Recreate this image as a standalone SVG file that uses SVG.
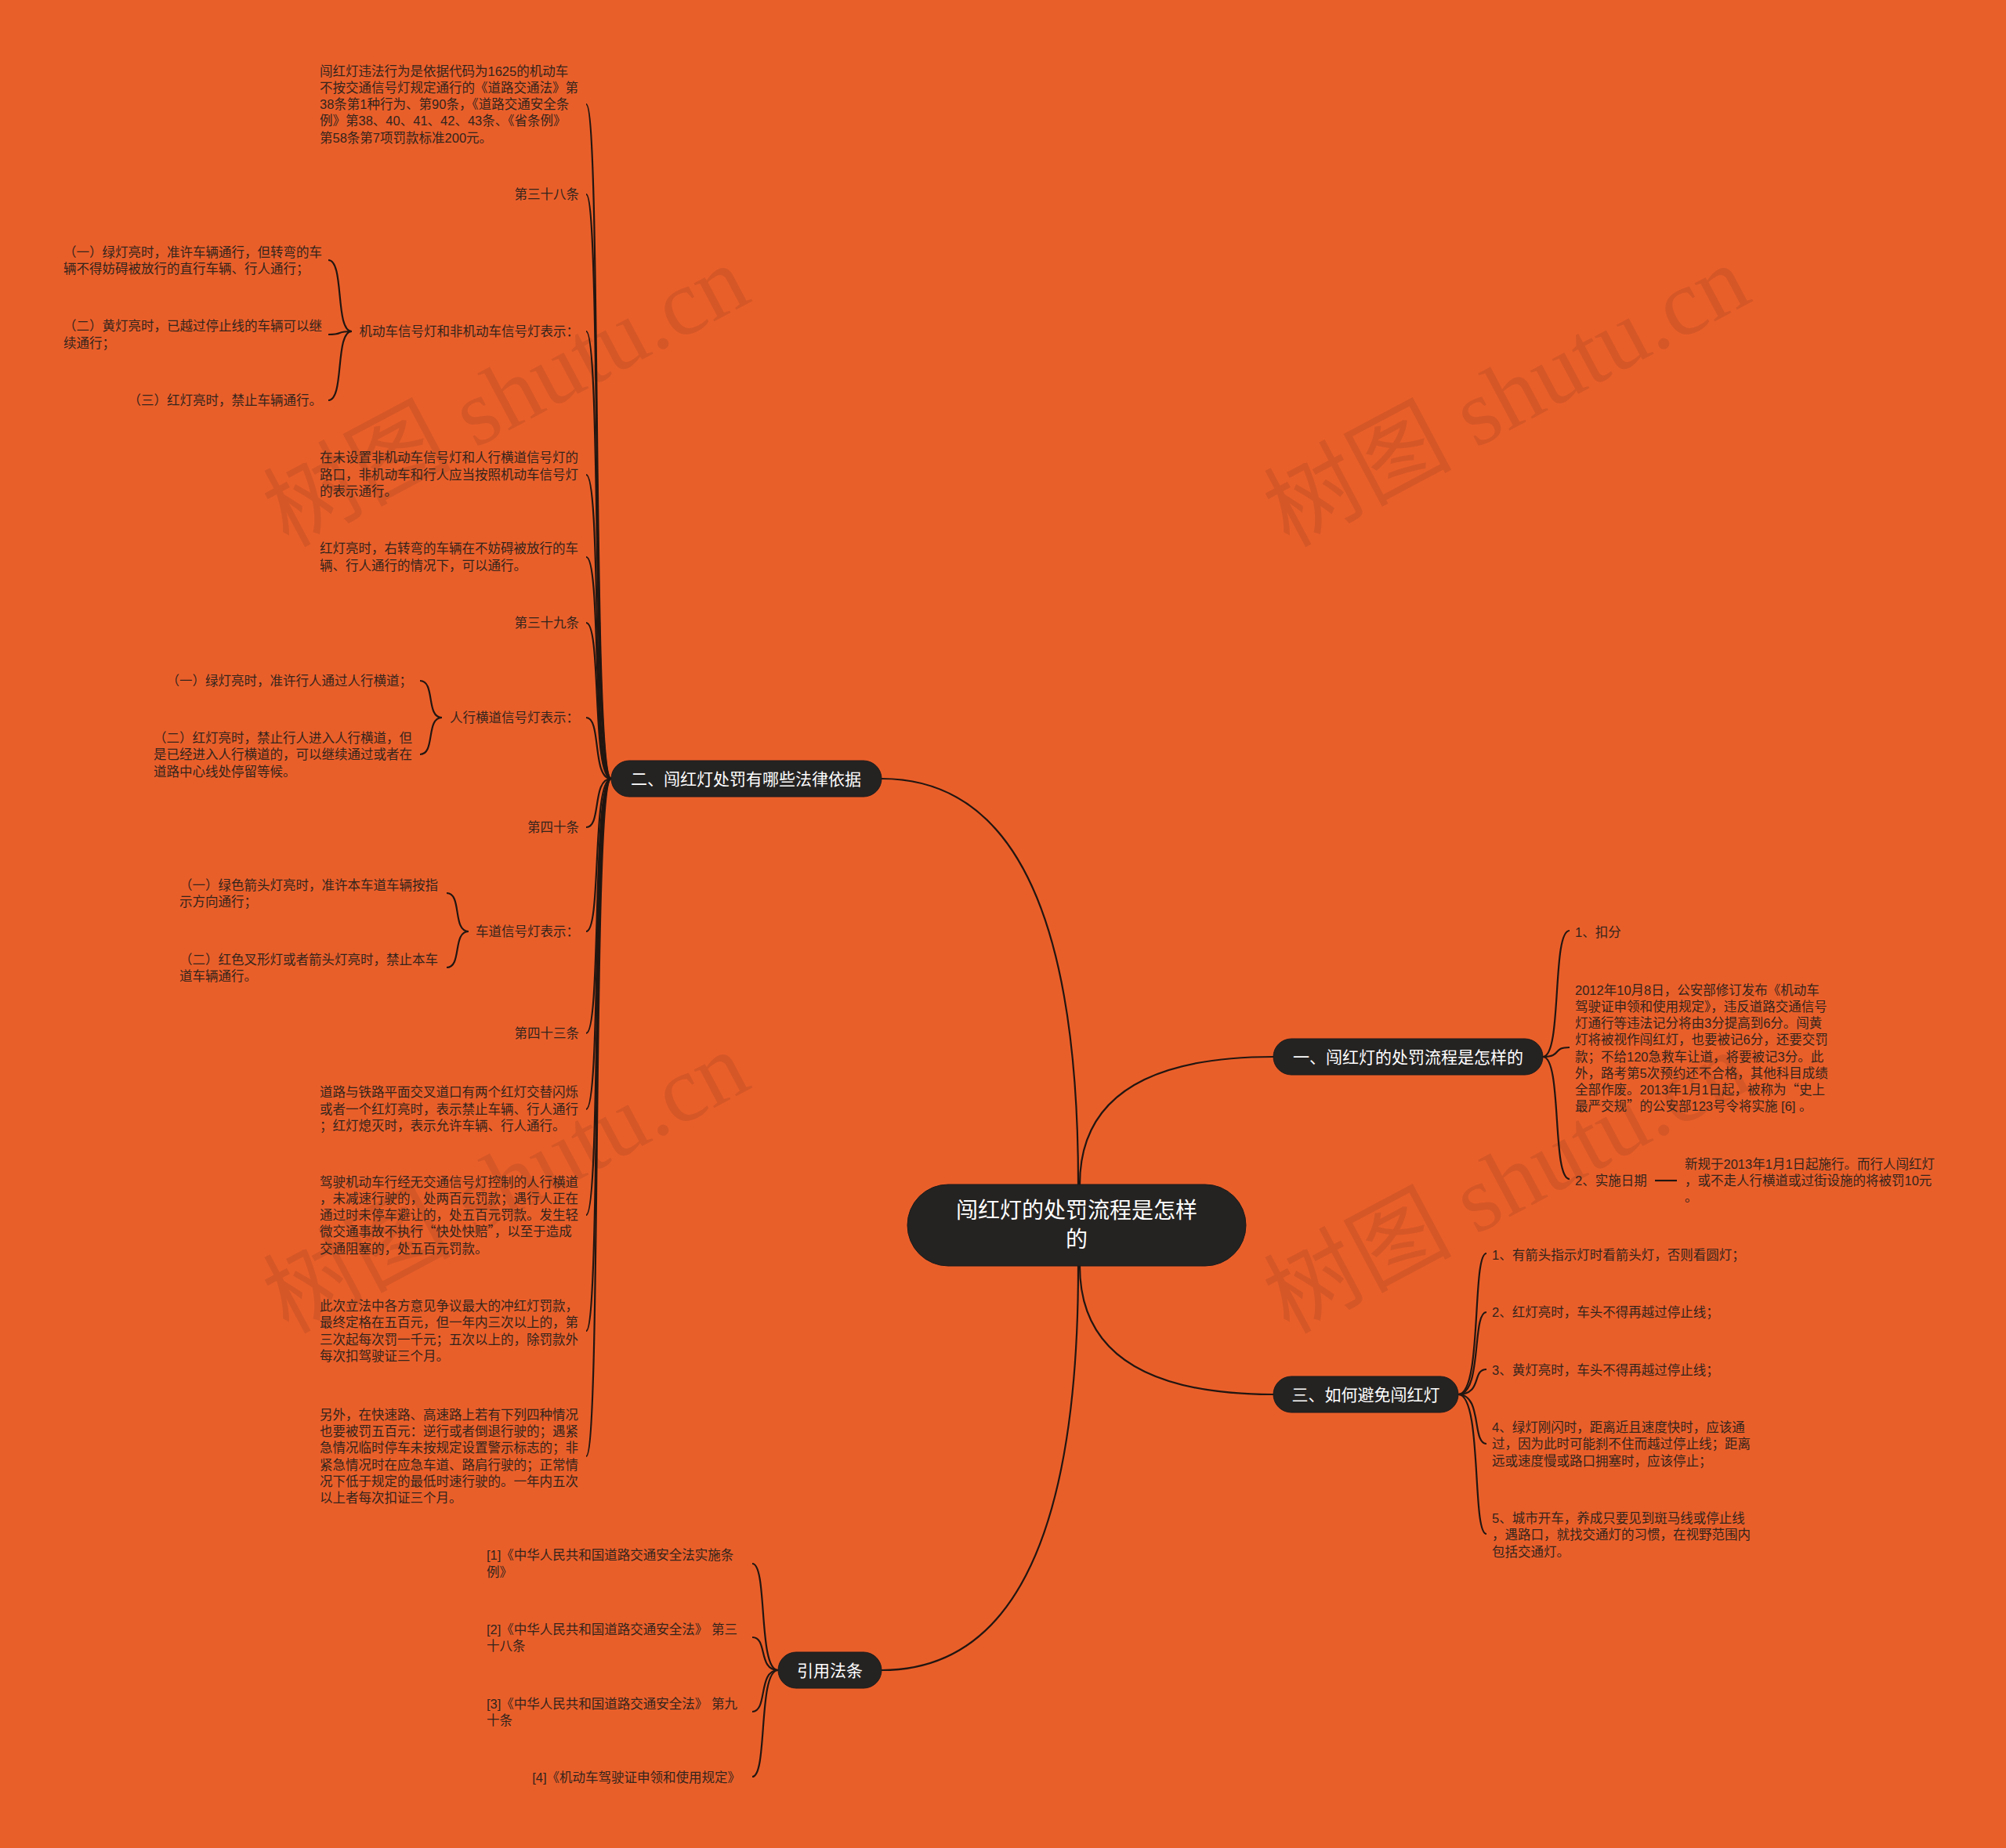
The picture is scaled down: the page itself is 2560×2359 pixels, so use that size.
<svg xmlns="http://www.w3.org/2000/svg" width="2560" height="2359" viewBox="0 0 2560 2359">
<style>
.t{font-family:'Liberation Sans','Noto Sans CJK SC',sans-serif;font-size:16.5px;fill:#33241c}
.q{font-family:'Noto Sans CJK SC',sans-serif}
.e{text-anchor:end}
.n{font-family:'Liberation Sans','Noto Sans CJK SC',sans-serif;font-size:21px;fill:#ffffff;text-anchor:middle}
.c{font-family:'Liberation Sans','Noto Sans CJK SC',sans-serif;font-size:28px;fill:#ffffff;text-anchor:middle}
.box{fill:#252322;stroke:#1a1a1a;stroke-width:1}
.ln{fill:none;stroke:#221611;stroke-width:2.2}
.wm{font-family:'Liberation Serif','Noto Sans CJK SC',serif;font-size:120px;fill:#6e3219;fill-opacity:0.16;text-anchor:middle}
</style>
<rect x="0" y="0" width="2560" height="2359" fill="#E95F2A"/>
<g id="watermarks">
<text class="wm" x="646" y="546" transform="rotate(-28 646 506)">树图 shutu.cn</text>
<text class="wm" x="1923" y="546" transform="rotate(-28 1923 506)">树图 shutu.cn</text>
<text class="wm" x="646" y="1550" transform="rotate(-28 646 1510)">树图 shutu.cn</text>
<text class="wm" x="1923" y="1550" transform="rotate(-28 1923 1510)">树图 shutu.cn</text>
</g>
<g id="connectors">
<path class="ln" d="M1125 994 Q1376 994 1376 1512"/>
<path class="ln" d="M1378 1512 Q1378 1349 1625 1349"/>
<path class="ln" d="M1378 1616 Q1378 1780 1625 1780"/>
<path class="ln" d="M1376 1616 Q1376 2132 1125 2132"/>
<path class="ln" d="M780 994 C755 994 768 133 748 133"/>
<path class="ln" d="M780 994 C755 994 768 248 748 248"/>
<path class="ln" d="M780 994 C755 994 768 423 748 423"/>
<path class="ln" d="M780 994 C755 994 768 606 748 606"/>
<path class="ln" d="M780 994 C755 994 768 711 748 711"/>
<path class="ln" d="M780 994 C755 994 768 795 748 795"/>
<path class="ln" d="M780 994 C755 994 768 916 748 916"/>
<path class="ln" d="M780 994 C755 994 768 1056 748 1056"/>
<path class="ln" d="M780 994 C755 994 768 1189 748 1189"/>
<path class="ln" d="M780 994 C755 994 768 1319 748 1319"/>
<path class="ln" d="M780 994 C755 994 768 1416 748 1416"/>
<path class="ln" d="M780 994 C755 994 768 1551 748 1551"/>
<path class="ln" d="M780 994 C755 994 768 1699 748 1699"/>
<path class="ln" d="M780 994 C755 994 768 1859 748 1859"/>
<path class="ln" d="M449 423 C427 423 440 332 419 332"/>
<path class="ln" d="M449 423 C427 423 440 427 419 427"/>
<path class="ln" d="M449 423 C427 423 440 511 419 511"/>
<path class="ln" d="M564 916 C543 916 556 869 536 869"/>
<path class="ln" d="M564 916 C543 916 556 963 536 963"/>
<path class="ln" d="M598 1189 C577 1189 590 1140 570 1140"/>
<path class="ln" d="M598 1189 C577 1189 590 1235 570 1235"/>
<path class="ln" d="M1969 1349 C1994 1349 1980 1188 2003 1188"/>
<path class="ln" d="M1969 1349 C1994 1349 1980 1337 2003 1337"/>
<path class="ln" d="M1969 1349 C1994 1349 1980 1505 2003 1505"/>
<path class="ln" d="M2112 1507 L2140 1507"/>
<path class="ln" d="M1861 1780 C1892 1780 1878 1600 1897 1600"/>
<path class="ln" d="M1861 1780 C1892 1780 1878 1675 1897 1675"/>
<path class="ln" d="M1861 1780 C1892 1780 1878 1748 1897 1748"/>
<path class="ln" d="M1861 1780 C1892 1780 1878 1843 1897 1843"/>
<path class="ln" d="M1861 1780 C1892 1780 1878 1958 1897 1958"/>
<path class="ln" d="M993 2132 C967 2132 980 1996 960 1996"/>
<path class="ln" d="M993 2132 C967 2132 980 2090 960 2090"/>
<path class="ln" d="M993 2132 C967 2132 980 2185 960 2185"/>
<path class="ln" d="M993 2132 C967 2132 980 2268 960 2268"/>
</g>
<g id="root">
<rect class="box" x="1158" y="1512" width="432" height="104" rx="52"/>
<text class="c" x="1374" y="1555">闯红灯的处罚流程是怎样</text>
<text class="c" x="1374" y="1592">的</text>
</g>
<g id="n2">
<rect class="box" x="780" y="971" width="345" height="46" rx="23"/>
<text class="n" x="952" y="1001.5">二、闯红灯处罚有哪些法律依据</text>
</g>
<g id="n1">
<rect class="box" x="1625" y="1326" width="344" height="46" rx="23"/>
<text class="n" x="1797" y="1356.5">一、闯红灯的处罚流程是怎样的</text>
</g>
<g id="n3">
<rect class="box" x="1625" y="1757" width="236" height="46" rx="23"/>
<text class="n" x="1743" y="1787.5">三、如何避免闯红灯</text>
</g>
<g id="n4">
<rect class="box" x="993" y="2109" width="132" height="46" rx="23"/>
<text class="n" x="1059" y="2139.5">引用法条</text>
</g>
<g id="n2-1">
<text class="t" x="408" y="96.5">闯红灯违法行为是依据代码为1625的机动车</text>
<text class="t" x="408" y="117.8">不按交通信号灯规定通行的《道路交通法》第</text>
<text class="t" x="408" y="139.1">38条第1种行为、第90条，《道路交通安全条</text>
<text class="t" x="408" y="160.4">例》第38、40、41、42、43条、《省条例》</text>
<text class="t" x="408" y="181.7">第58条第7项罚款标准200元。</text>
</g>
<g id="n2-2"><text class="t e" x="739" y="254">第三十八条</text></g>
<g id="n2-3"><text class="t e" x="739" y="429">机动车信号灯和非机动车信号灯表示：</text></g>
<g id="n2-3-1">
<text class="t" x="81" y="328">（一）绿灯亮时，准许车辆通行，但转弯的车</text>
<text class="t" x="81" y="349">辆不得妨碍被放行的直行车辆、行人通行；</text>
</g>
<g id="n2-3-2">
<text class="t" x="81" y="422">（二）黄灯亮时，已越过停止线的车辆可以继</text>
<text class="t" x="81" y="444">续通行；</text>
</g>
<g id="n2-3-3"><text class="t e" x="411" y="517">（三）红灯亮时，禁止车辆通行。</text></g>
<g id="n2-4">
<text class="t" x="408" y="590">在未设置非机动车信号灯和人行横道信号灯的</text>
<text class="t" x="408" y="611.5">路口，非机动车和行人应当按照机动车信号灯</text>
<text class="t" x="408" y="633">的表示通行。</text>
</g>
<g id="n2-5">
<text class="t" x="408" y="706">红灯亮时，右转弯的车辆在不妨碍被放行的车</text>
<text class="t" x="408" y="728">辆、行人通行的情况下，可以通行。</text>
</g>
<g id="n2-6"><text class="t e" x="739" y="801">第三十九条</text></g>
<g id="n2-7"><text class="t e" x="739" y="922">人行横道信号灯表示：</text></g>
<g id="n2-7-1"><text class="t e" x="526" y="875">（一）绿灯亮时，准许行人通过人行横道；</text></g>
<g id="n2-7-2">
<text class="t" x="196" y="948">（二）红灯亮时，禁止行人进入人行横道，但</text>
<text class="t" x="196" y="969">是已经进入人行横道的，可以继续通过或者在</text>
<text class="t" x="196" y="991">道路中心线处停留等候。</text>
</g>
<g id="n2-8"><text class="t e" x="739" y="1062">第四十条</text></g>
<g id="n2-9"><text class="t e" x="739" y="1195">车道信号灯表示：</text></g>
<g id="n2-9-1">
<text class="t" x="229" y="1136">（一）绿色箭头灯亮时，准许本车道车辆按指</text>
<text class="t" x="229" y="1157">示方向通行；</text>
</g>
<g id="n2-9-2">
<text class="t" x="229" y="1231">（二）红色叉形灯或者箭头灯亮时，禁止本车</text>
<text class="t" x="229" y="1252">道车辆通行。</text>
</g>
<g id="n2-10"><text class="t e" x="739" y="1325">第四十三条</text></g>
<g id="n2-11">
<text class="t" x="408" y="1400">道路与铁路平面交叉道口有两个红灯交替闪烁</text>
<text class="t" x="408" y="1421.5">或者一个红灯亮时，表示禁止车辆、行人通行</text>
<text class="t" x="408" y="1443">；红灯熄灭时，表示允许车辆、行人通行。</text>
</g>
<g id="n2-12">
<text class="t" x="408" y="1515">驾驶机动车行经无交通信号灯控制的人行横道</text>
<text class="t" x="408" y="1536">，未减速行驶的，处两百元罚款；遇行人正在</text>
<text class="t" x="408" y="1557">通过时未停车避让的，处五百元罚款。发生轻</text>
<text class="t" x="408" y="1578">微交通事故不执行<tspan class="q">“</tspan>快处快赔<tspan class="q">”</tspan>，以至于造成</text>
<text class="t" x="408" y="1600">交通阻塞的，处五百元罚款。</text>
</g>
<g id="n2-13">
<text class="t" x="408" y="1673">此次立法中各方意见争议最大的冲红灯罚款，</text>
<text class="t" x="408" y="1694">最终定格在五百元，但一年内三次以上的，第</text>
<text class="t" x="408" y="1716">三次起每次罚一千元；五次以上的，除罚款外</text>
<text class="t" x="408" y="1737">每次扣驾驶证三个月。</text>
</g>
<g id="n2-14">
<text class="t" x="408" y="1812">另外，在快速路、高速路上若有下列四种情况</text>
<text class="t" x="408" y="1833">也要被罚五百元：逆行或者倒退行驶的；遇紧</text>
<text class="t" x="408" y="1854">急情况临时停车未按规定设置警示标志的；非</text>
<text class="t" x="408" y="1876">紧急情况时在应急车道、路肩行驶的；正常情</text>
<text class="t" x="408" y="1897">况下低于规定的最低时速行驶的。一年内五次</text>
<text class="t" x="408" y="1918">以上者每次扣证三个月。</text>
</g>
<g id="n1-1"><text class="t" x="2010" y="1196">1、扣分</text></g>
<g id="n1-2">
<text class="t" x="2010" y="1270">2012年10月8日，公安部修订发布《机动车</text>
<text class="t" x="2010" y="1291">驾驶证申领和使用规定》，违反道路交通信号</text>
<text class="t" x="2010" y="1312">灯通行等违法记分将由3分提高到6分。闯黄</text>
<text class="t" x="2010" y="1333">灯将被视作闯红灯，也要被记6分，还要交罚</text>
<text class="t" x="2010" y="1355">款；不给120急救车让道，将要被记3分。此</text>
<text class="t" x="2010" y="1376">外，路考第5次预约还不合格，其他科目成绩</text>
<text class="t" x="2010" y="1397">全部作废。2013年1月1日起，被称为<tspan class="q">“</tspan>史上</text>
<text class="t" x="2010" y="1418">最严交规<tspan class="q">”</tspan>的公安部123号令将实施 [6] 。</text>
</g>
<g id="n1-3"><text class="t" x="2010" y="1513">2、实施日期</text></g>
<g id="n1-3-1">
<text class="t" x="2150" y="1492">新规于2013年1月1日起施行。而行人闯红灯</text>
<text class="t" x="2150" y="1513">，或不走人行横道或过街设施的将被罚10元</text>
<text class="t" x="2150" y="1534">。</text>
</g>
<g id="n3-1"><text class="t" x="1904" y="1608">1、有箭头指示灯时看箭头灯，否则看圆灯；</text></g>
<g id="n3-2"><text class="t" x="1904" y="1681">2、红灯亮时，车头不得再越过停止线；</text></g>
<g id="n3-3"><text class="t" x="1904" y="1755">3、黄灯亮时，车头不得再越过停止线；</text></g>
<g id="n3-4">
<text class="t" x="1904" y="1828">4、绿灯刚闪时，距离近且速度快时，应该通</text>
<text class="t" x="1904" y="1849">过，因为此时可能刹不住而越过停止线；距离</text>
<text class="t" x="1904" y="1871">远或速度慢或路口拥塞时，应该停止；</text>
</g>
<g id="n3-5">
<text class="t" x="1904" y="1944">5、城市开车，养成只要见到斑马线或停止线</text>
<text class="t" x="1904" y="1965">，遇路口，就找交通灯的习惯，在视野范围内</text>
<text class="t" x="1904" y="1987">包括交通灯。</text>
</g>
<g id="n4-1">
<text class="t" x="621" y="1991">[1]《中华人民共和国道路交通安全法实施条</text>
<text class="t" x="621" y="2013">例》</text>
</g>
<g id="n4-2">
<text class="t" x="621" y="2086">[2]《中华人民共和国道路交通安全法》 第三</text>
<text class="t" x="621" y="2107">十八条</text>
</g>
<g id="n4-3">
<text class="t" x="621" y="2181">[3]《中华人民共和国道路交通安全法》 第九</text>
<text class="t" x="621" y="2202">十条</text>
</g>
<g id="n4-4"><text class="t e" x="945" y="2275">[4]《机动车驾驶证申领和使用规定》</text></g>
</svg>
